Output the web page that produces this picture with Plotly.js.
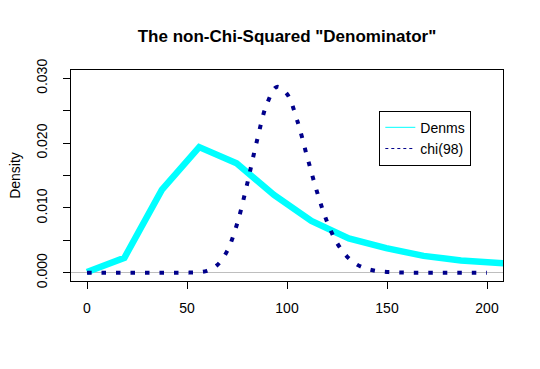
<!DOCTYPE html>
<html>
<head>
<meta charset="utf-8">
<script src="https://cdn.plot.ly/plotly-3.0.1.min.js"></script>
<style>html,body{margin:0;padding:0;background:#fff;}#chart{width:540px;height:369px;}</style>
</head>
<body>
<div id="chart"></div>
<script>
// Denms (empirical density, cyan)
const denmsX = [0, 18.7, 37.4, 56.1, 74.8, 93.5, 112.2, 130.9, 149.6, 168.3, 187, 205.7, 224.4];
const denmsY = [0.0001, 0.0023, 0.0128, 0.0194, 0.0169, 0.0120, 0.0080, 0.0053, 0.0038, 0.0026, 0.0019, 0.0014, 0.0011];

// chi(98) density curve (dotted dark blue)
const chiX = [0, 5, 10, 15, 20, 25, 30, 35, 40, 45, 50, 55, 60, 65, 70, 75, 80, 85, 90, 95, 100,
              105, 110, 115, 120, 125, 130, 135, 140, 145, 150, 155, 160, 165, 170, 175, 180, 185, 190, 195, 200];
const chiY = [0, 0, 0, 0, 0, 0, 0, 0, 0, 0, 0.00001, 0.00006, 0.0003, 0.00115, 0.0033, 0.0075, 0.0136, 0.0204, 0.0261, 0.0287, 0.0276,
              0.0236, 0.0180, 0.0125, 0.0079, 0.0046, 0.0025, 0.00125, 0.0006, 0.00026, 0.00011, 0.00004, 0.00001, 0, 0, 0, 0, 0, 0, 0, 0];

const legendNames = ["Denms", "chi(98)"];
const xTicks = [0, 50, 100, 150, 200];
const yTicks = [0, 0.005, 0.010, 0.015, 0.020, 0.025, 0.030];
const yTickText = ["0.000", "", "0.010", "", "0.020", "", "0.030"];

const FONT = "Liberation Sans, Arial, sans-serif";

const traces = [
  {x: denmsX, y: denmsY, mode: "lines", line: {color: "#00FFFF", width: 6.5}, showlegend: false, hoverinfo: "skip"},
  {x: chiX, y: chiY, mode: "lines", line: {color: "#00008B", width: 4, dash: "4.5px,10px", shape: "spline"}, showlegend: false, hoverinfo: "skip"},
  {x: [null], y: [null], mode: "lines", name: legendNames[0], line: {color: "#00FFFF", width: 1}},
  {x: [null], y: [null], mode: "lines", name: legendNames[1], line: {color: "#00008B", width: 1, dash: "dot"}}
];

const layout = {
  width: 540, height: 369,
  margin: {l: 71, r: 37, t: 70, b: 88},
  paper_bgcolor: "#fff", plot_bgcolor: "#fff",
  font: {family: FONT, size: 14, color: "#000"},
  title: {text: "<b>The non-Chi-Squared \"Denominator\"</b>", font: {family: FONT, size: 17, color: "#000"},
          x: 0.5, xref: "paper", xanchor: "center", y: 1 - 35.7/369, yref: "container", yanchor: "middle"},
  xaxis: {range: [-8, 208], tickvals: xTicks, ticktext: xTicks.map(String), ticks: "outside", ticklen: 7, tickcolor: "#000", tickwidth: 1,
          showline: true, linecolor: "#000", linewidth: 1, mirror: true, showgrid: false, zeroline: false,
          ticklabelstandoff: 7, tickfont: {family: FONT, size: 14, color: "#000"}},
  yaxis: {range: [-0.00128, 0.0313], tickvals: yTicks, ticktext: yTickText, ticks: "outside", ticklen: 7, tickcolor: "#000", tickwidth: 1,
          tickangle: -90, showline: true, linecolor: "#000", linewidth: 1, mirror: true, showgrid: false,
          zeroline: true, zerolinecolor: "#BEBEBE", zerolinewidth: 1,
          ticklabelstandoff: 10, tickfont: {family: FONT, size: 14, color: "#000"},
          title: {text: "Density", font: {family: FONT, size: 14, color: "#000"}, standoff: 10}},
  showlegend: true,
  legend: {x: 0.7137, y: 0.807, xanchor: "left", yanchor: "top", bordercolor: "#000", borderwidth: 1, bgcolor: "#fff",
           font: {family: FONT, size: 14, color: "#000"}}
};

Plotly.newPlot("chart", traces, layout, {displayModeBar: false, staticPlot: true});
</script>
</body>
</html>
